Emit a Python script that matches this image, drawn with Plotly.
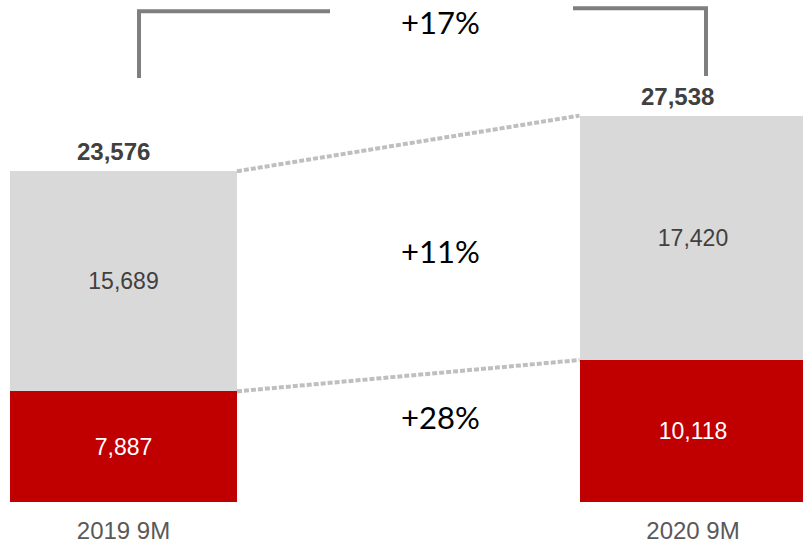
import plotly.graph_objects as go

categories = ["2019 9M", "2020 9M"]
red_values = [7887, 10118]
gray_values = [15689, 17420]
totals = [23576, 27538]
growth_labels = {"total": "+17%", "gray": "+11%", "red": "+28%"}

RED = "#C00000"
GRAY = "#D9D9D9"
W, H = 803, 544
BOTTOM = 42
PX_PER_UNIT = 0.01403
Y_MAX = (H - BOTTOM) / PX_PER_UNIT
C0, C1 = 123.5, 693.0
UNIT = C1 - C0
BAR_W = 227 / UNIT
X_MIN = -C0 / UNIT
X_MAX = 1 + (W - C1) / UNIT

xs = [0, 1]
fmt = lambda v: f"{v:,}"

fig = go.Figure()
fig.add_trace(go.Bar(
    x=xs, y=red_values, width=BAR_W, marker=dict(color=RED, line=dict(width=0)),
    text=[fmt(v) for v in red_values], textposition="inside", insidetextanchor="middle",
    textangle=0, constraintext="none",
    textfont=dict(family="Liberation Sans, Arial", size=23, color="white"),
    hoverinfo="skip",
))
fig.add_trace(go.Bar(
    x=xs, y=gray_values, width=BAR_W, marker=dict(color=GRAY, line=dict(width=0)),
    text=[fmt(v) for v in gray_values], textposition="inside", insidetextanchor="middle",
    textangle=0, constraintext="none",
    textfont=dict(family="Liberation Sans, Arial", size=23, color="#404040"),
    hoverinfo="skip",
))

# dotted connectors between bars
half = BAR_W / 2
for a, b in [(totals[0], totals[1]), (red_values[0], red_values[1])]:
    fig.add_shape(type="line", xref="x", yref="y", x0=xs[0] + half, y0=a, x1=xs[1] - half, y1=b,
                  line=dict(color="#BFBFBF", width=4, dash="5px,2px"), layer="above")

# total labels
for x, t, shift in zip(xs, totals, [-10, -16]):
    fig.add_annotation(x=x, y=t, xref="x", yref="y", text=f"<b>{fmt(t)}</b>", showarrow=False,
                       yanchor="bottom", yshift=4, xshift=shift,
                       font=dict(family="Liberation Sans, Arial", size=24, color="#404040"))

# bracket (pixel-positioned decoration)
def px_x(p):
    return p / W
def px_y(p):
    return 1 - p / (H - BOTTOM)

bracket = dict(color="#7F7F7F", width=4)
fig.add_shape(type="path", xref="paper", yref="paper",
              path=f"M {px_x(139)} {px_y(78)} L {px_x(139)} {px_y(11.3)} L {px_x(330)} {px_y(11.3)}",
              line=bracket)
fig.add_shape(type="path", xref="paper", yref="paper",
              path=f"M {px_x(573)} {px_y(8.3)} L {px_x(706)} {px_y(8.3)} L {px_x(706)} {px_y(76)}",
              line=bracket)

pct_font = dict(family="Lato, Noto Sans", size=31, color="black")
for text, ypx in [(growth_labels["total"], 22), (growth_labels["gray"], 251), (growth_labels["red"], 417)]:
    fig.add_annotation(x=px_x(440), y=px_y(ypx), xref="paper", yref="paper", text=text,
                       showarrow=False, xanchor="center", yanchor="middle", font=pct_font)

fig.update_layout(
    width=W, height=H, barmode="stack", bargap=0,
    margin=dict(l=0, r=0, t=0, b=BOTTOM),
    paper_bgcolor="white", plot_bgcolor="white", showlegend=False,
    xaxis=dict(range=[X_MIN, X_MAX], tickvals=xs, ticktext=categories, showgrid=False,
               zeroline=False, showline=False, ticks="", ticklabelstandoff=12,
               tickfont=dict(family="Liberation Sans, Arial", size=24, color="#595959")),
    yaxis=dict(range=[0, Y_MAX], visible=False),
)

fig.write_html("out.html", config={"displayModeBar": False, "staticPlot": True},
               post_script="document.body.style.margin='0';document.body.style.overflow='hidden';")
